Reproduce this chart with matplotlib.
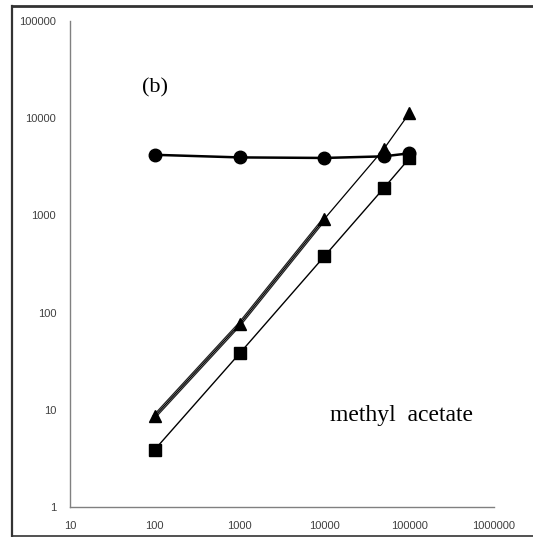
import numpy as np
import matplotlib.pyplot as plt
from matplotlib.lines import Line2D

# data
x_vals = [100, 1000, 10000, 50000, 100000]
circles = [4200, 3950, 3900, 4050, 4350]
triangles = [8.6, 76, 920, 4800, 11200]
squares = [3.9, 38, 380, 1900, 3850]
x_ticks = [10, 100, 1000, 10000, 100000, 1000000]
y_ticks = [1, 10, 100, 1000, 10000, 100000]

fig = plt.figure(figsize=(5.33, 5.37), dpi=100)
ax = fig.add_axes([70/533, 30/537, 424/533, 486/537])

# circles
ax.plot(x_vals, circles, '-', color='black', lw=1.8, marker='o', ms=9, zorder=3)
# triangles: drawn as a doubled line (black with a white core) on the lower part
ax.plot(x_vals[:3], triangles[:3], '-', color='#222222', lw=3.0, zorder=2)
ax.plot(x_vals[:3], triangles[:3], '-', color='white', lw=1.1, zorder=2)
ax.plot(x_vals, triangles, '-', color='black', lw=0.9, marker='^', ms=9, zorder=3)
# squares
ax.plot(x_vals, squares, '-', color='black', lw=1.0, marker='s', ms=8.5, zorder=3)

ax.set_xscale('log')
ax.set_yscale('log')
ax.set_xlim(10, 1000000)
ax.set_ylim(1, 100000)
ax.set_xticks(x_ticks)
ax.set_xticklabels([str(v) for v in x_ticks])
ax.set_yticks(y_ticks)
ax.set_yticklabels([str(v) for v in y_ticks])
ax.minorticks_off()
ax.tick_params(length=0, labelsize=8, labelcolor='#404040', pad=10)
for lab in ax.get_xticklabels() + ax.get_yticklabels():
    lab.set_family('Liberation Sans')

ax.spines['top'].set_visible(False)
ax.spines['right'].set_visible(False)
ax.spines['left'].set_color('#808080')
ax.spines['bottom'].set_color('#808080')
ax.spines['left'].set_linewidth(1.0)
ax.spines['bottom'].set_linewidth(1.0)

fig.text(155/533, 1 - 88/537, '(b)', family='Liberation Serif', fontsize=16,
         ha='center', va='center')
fig.text(401/533, 1 - 415/537, 'methyl  acetate', family='Liberation Serif',
         fontsize=17, ha='center', va='center')

# frame round the figure (left, top, bottom visible)
fl, ft, fb = 11.5/533, 1 - 6/537, 1 - 535.5/537
fig.add_artist(Line2D([fl, fl], [fb, ft], transform=fig.transFigure, color='#333333', lw=1.6))
fig.add_artist(Line2D([fl, 1.0], [ft, ft], transform=fig.transFigure, color='#333333', lw=2.0))
fig.add_artist(Line2D([fl, 1.0], [fb, fb], transform=fig.transFigure, color='#333333', lw=1.2))

fig.savefig('out.png', dpi=100)
